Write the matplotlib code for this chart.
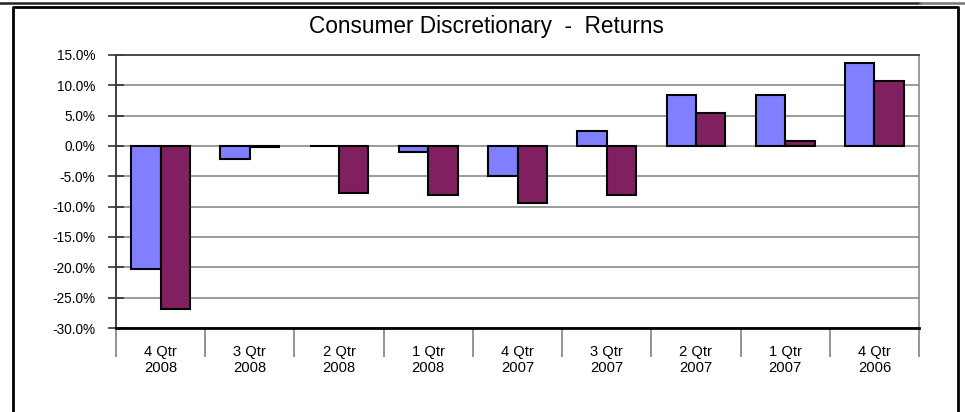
import numpy as np
import matplotlib
matplotlib.use('Agg')
import matplotlib.pyplot as plt
from matplotlib.lines import Line2D
from matplotlib.ticker import FuncFormatter

plt.rcParams['font.family'] = ['Liberation Sans', 'DejaVu Sans']

# data (percent)
quarters = ['4 Qtr\n2008', '3 Qtr\n2008', '2 Qtr\n2008', '1 Qtr\n2008', '4 Qtr\n2007',
            '3 Qtr\n2007', '2 Qtr\n2007', '1 Qtr\n2007', '4 Qtr\n2006']
series_a = [-20.2, -2.1, -0.05, -1.0, -5.0, 2.5, 8.4, 8.4, 13.7]
series_b = [-26.8, -0.1, -7.8, -8.0, -9.4, -8.0, 5.5, 0.9, 10.7]
yticks = [15, 10, 5, 0, -5, -10, -15, -20, -25, -30]

fig = plt.figure(figsize=(9.65, 4.12), dpi=100)
ax = fig.add_axes([116/965, 1 - 328/412, (919 - 116)/965, (328 - 55)/412])

x = np.arange(len(quarters))
w = 0.33
ax.bar(x - w/2, series_a, w, color='#8080FF', edgecolor='black', linewidth=1.5, zorder=3)
ax.bar(x + w/2, series_b, w, color='#802060', edgecolor='black', linewidth=1.5, zorder=3)

ax.set_xlim(-0.5, len(quarters) - 0.5)
ax.set_ylim(-30, 15)
ax.set_yticks(yticks)
ax.yaxis.set_major_formatter(FuncFormatter(lambda v, p: f'{v:.1f}%'))
ax.tick_params(axis='y', direction='inout', length=12, width=1.2, color='#333333',
               labelsize=9.8, pad=9)
ax.grid(axis='y', color='#808080', linewidth=1.1, zorder=0)

ax.set_xticks(x)
ax.set_xticklabels(quarters, fontsize=10.6, linespacing=1.2)
ax.tick_params(axis='x', which='major', length=0, pad=12)
ax.set_xticks(np.arange(len(quarters) + 1) - 0.5, minor=True)
ax.tick_params(axis='x', which='minor', direction='out', length=21, width=1.1, color='#777777')

ax.spines['left'].set_color('#333333')
ax.spines['left'].set_linewidth(1.3)
ax.spines['bottom'].set_color('black')
ax.spines['bottom'].set_linewidth(2)
ax.spines['top'].set_color('#404040')
ax.spines['top'].set_linewidth(1.3)
ax.spines['right'].set_color('#808080')
ax.spines['right'].set_linewidth(1.1)

fig.text(486/965, 1 - 27/412, 'Consumer Discretionary  -  Returns', ha='center', va='center',
         fontsize=16.3)

# outer chart frame (bottom edge falls outside the picture)
X = lambda px: px / 965
Y = lambda py: 1 - py / 412
fig.add_artist(Line2D([X(13), X(13), X(958), X(958)], [Y(415), Y(7), Y(7), Y(415)],
                      color='black', linewidth=2))
fig.add_artist(Line2D([X(0), X(920)], [Y(2.5), Y(2.5)], color='#222222', linewidth=1.8))
fig.add_artist(Line2D([X(920), X(965)], [Y(2.5), Y(2.5)], color='#777777', linewidth=1.8))

fig.savefig('out.png', dpi=100)
